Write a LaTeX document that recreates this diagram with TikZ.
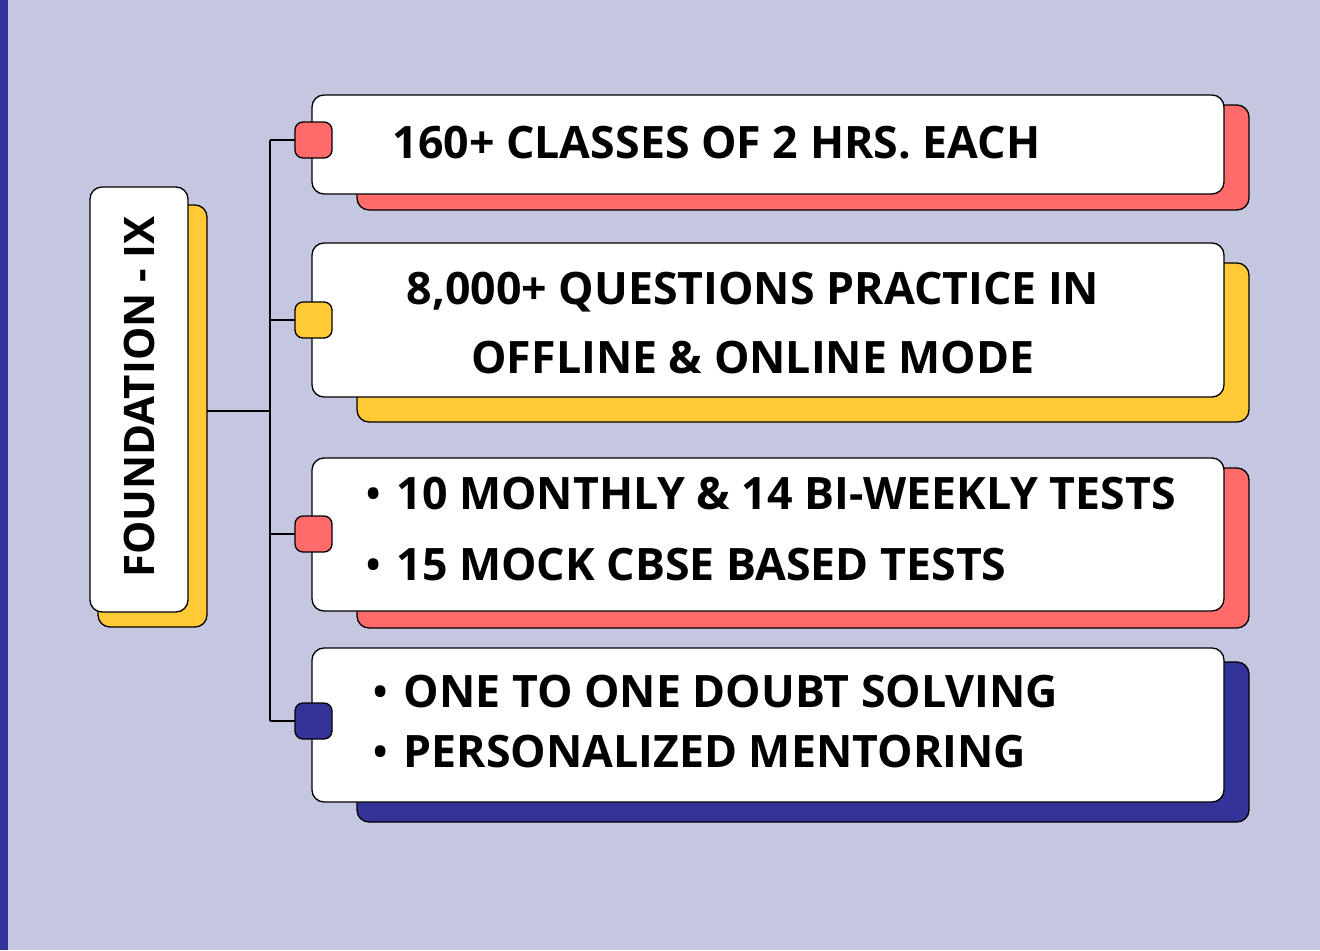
\documentclass[tikz,border=0pt]{standalone}
\usepackage{fontspec}
\setmainfont{Open Sans}
\definecolor{bgLav}{HTML}{C5C6E0}
\definecolor{cRed}{HTML}{FF6B6B}
\definecolor{cYel}{HTML}{FFCA36}
\definecolor{cBlu}{HTML}{343498}
\newcommand{\dotmark}{\raisebox{0.12ex}{\scalebox{0.85}{•}}\hspace{0.35em}}
\tikzset{
  card/.style={draw=black, line width=1pt, rounded corners=9pt, fill=white},
  shade/.style={draw=black, line width=1pt, rounded corners=9pt, fill=#1},
  tab/.style={draw=black, line width=1pt, rounded corners=6pt, fill=#1},
  label/.style={font=\bfseries\fontsize{33.5}{48}\selectfont, align=left, anchor=west}
}
\begin{document}
\begin{tikzpicture}[x=0.75pt, y=-0.75pt]
   \useasboundingbox (0,0) rectangle (1320,950);
   % fond
   \fill [bgLav] (0,0) rectangle (1320,950);
   \fill [cBlu] (0,0) rectangle (8,950);

   % titre
   \draw [shade=cYel] (98,205) rectangle (207,627);
   \draw [card] (90,187) rectangle (188,612);
   \node [rotate=90, font=\bfseries\fontsize{31.5}{38}\selectfont] (title) at (139,397) {FOUNDATION - IX};

   % branches
   \coordinate (root) at (207,411);
   \coordinate (spine) at (270,411);
   \draw [line width=1pt] (root) -- (spine);
   \draw [line width=1pt] (270,140) -- (270,721);

   % cartes
   \draw [shade=cRed] (357,105) rectangle (1249,210);
   \draw [card] (312,95) rectangle (1224,194);
   \draw [shade=cYel] (357,263) rectangle (1249,422);
   \draw [card] (312,243) rectangle (1224,397);
   \draw [shade=cRed] (357,468) rectangle (1249,628);
   \draw [card] (312,458) rectangle (1224,611);
   \draw [shade=cBlu] (357,662) rectangle (1249,822);
   \draw [card] (312,648) rectangle (1224,802);

   % onglets
   \foreach \y/\c in {140/cRed, 320/cYel, 534/cRed, 721/cBlu}{
      \draw [line width=1pt] (270,\y) -- (295,\y);
      \draw [tab=\c] (295,\y-18) rectangle (332,\y+18);
   }

   % textes
   \node [label] (t1) at (388,143) {160+ CLASSES OF 2 HRS. EACH};
   \node [label, anchor=center, align=center] (t2) at (753,323) {8,000+ QUESTIONS PRACTICE IN\\[0.1em]OFFLINE \& ONLINE MODE};
   \node [label] (t3a) at (362,494) {\dotmark 10 MONTHLY \& 14 BI-WEEKLY TESTS};
   \node [label] (t3b) at (362,565) {\dotmark 15 MOCK CBSE BASED TESTS};
   \node [label] (t4a) at (369,692) {\dotmark ONE TO ONE DOUBT SOLVING};
   \node [label] (t4b) at (369,752) {\dotmark PERSONALIZED MENTORING};
\end{tikzpicture}
\end{document}
